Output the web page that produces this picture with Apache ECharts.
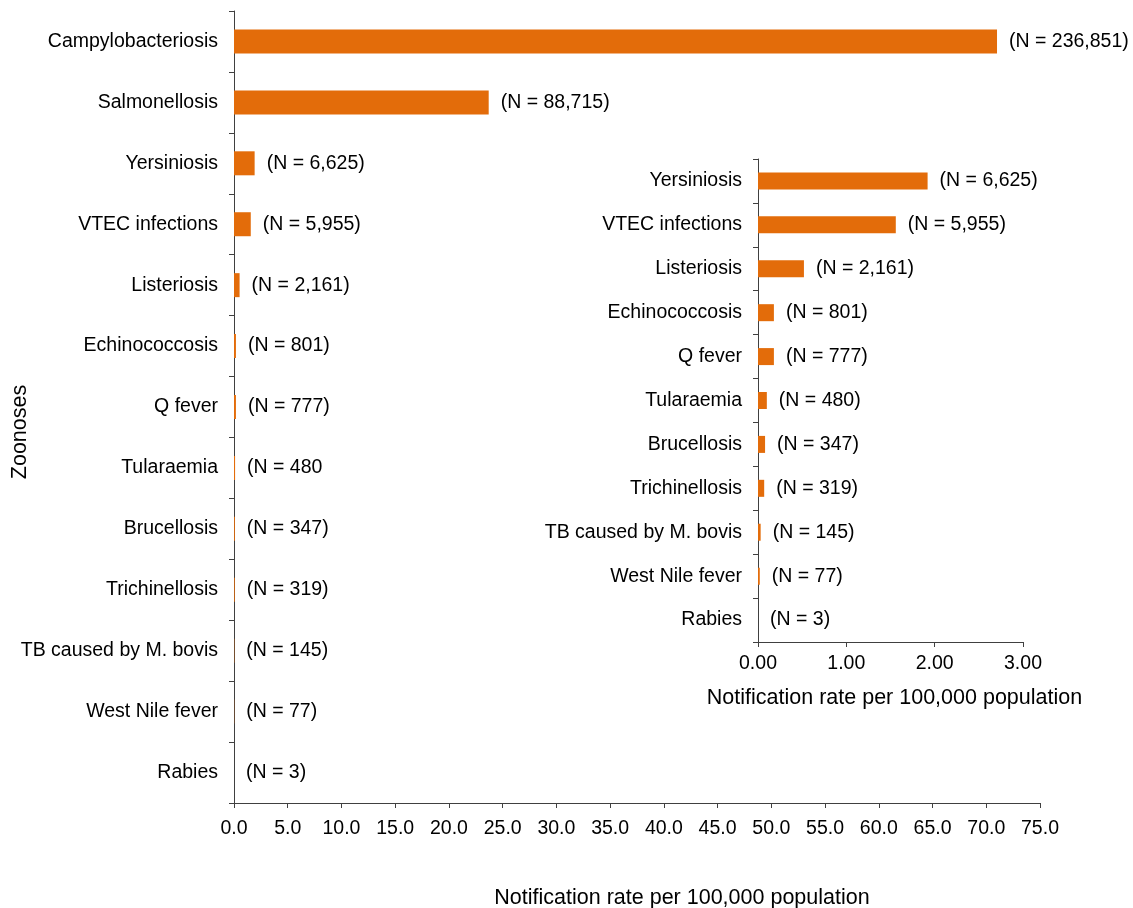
<!DOCTYPE html>
<html>
<head>
<meta charset="utf-8">
<script src="https://cdn.jsdelivr.net/npm/echarts@6/dist/echarts.min.js"></script>
<style>html,body{margin:0;padding:0;background:#fff}#c{width:1133px;height:908px}</style>
</head>
<body>
<div id="c"></div>
<script>
const mainCategories = ['Campylobacteriosis','Salmonellosis','Yersiniosis','VTEC infections','Listeriosis','Echinococcosis','Q fever','Tularaemia','Brucellosis','Trichinellosis','TB caused by M. bovis','West Nile fever','Rabies'];
const mainRates = [71.0, 23.7, 1.92, 1.56, 0.52, 0.18, 0.18, 0.10, 0.08, 0.07, 0.03, 0.02, 0.00];
const mainLabels = ['(N = 236,851)','(N = 88,715)','(N = 6,625)','(N = 5,955)','(N = 2,161)','(N = 801)','(N = 777)','(N = 480','(N = 347)','(N = 319)','(N = 145)','(N = 77)','(N = 3)'];

const insetCategories = ['Yersiniosis','VTEC infections','Listeriosis','Echinococcosis','Q fever','Tularaemia','Brucellosis','Trichinellosis','TB caused by M. bovis','West Nile fever','Rabies'];
const insetRates = [1.92, 1.56, 0.52, 0.18, 0.18, 0.10, 0.08, 0.07, 0.03, 0.02, 0.00];
const insetLabels = ['(N = 6,625)','(N = 5,955)','(N = 2,161)','(N = 801)','(N = 777)','(N = 480)','(N = 347)','(N = 319)','(N = 145)','(N = 77)','(N = 3)'];

const xTitle = 'Notification rate per 100,000 population';
const yTitle = 'Zoonoses';

const FONT = '"Liberation Sans", Arial, sans-serif';
const FS = 19.5;
const TFS = 21.5;
const AX = '#404040';
const BAR = '#E36C0A';

const chart = echarts.init(document.getElementById('c'), null, {renderer: 'canvas'});
chart.setOption({
  animation: false,
  textStyle: {fontFamily: FONT, color: '#000'},
  grid: [
    {left: 234, right: 93, top: 11, bottom: 105, containLabel: false, outerBoundsMode: 'none'},
    {left: 758, right: 110, top: 159, bottom: 266, containLabel: false, outerBoundsMode: 'none'}
  ],
  xAxis: [
    {
      gridIndex: 0, type: 'value', min: 0, max: 75, interval: 5,
      axisLine: {show: true, lineStyle: {color: AX, width: 1}},
      axisTick: {show: true, length: 5, lineStyle: {color: AX}},
      splitLine: {show: false},
      axisLabel: {color: '#000', fontSize: FS, fontFamily: FONT, margin: 16, formatter: v => v.toFixed(1)},
      name: xTitle, nameLocation: 'middle', nameGap: 84,
      nameTextStyle: {color: '#000', fontSize: TFS, fontFamily: FONT, padding: [0, 0, 0, 90]}
    },
    {
      gridIndex: 1, type: 'value', min: 0, max: 3, interval: 1,
      axisLine: {show: true, lineStyle: {color: AX, width: 1}},
      axisTick: {show: true, length: 5, lineStyle: {color: AX}},
      splitLine: {show: false},
      axisLabel: {color: '#000', fontSize: FS, fontFamily: FONT, margin: 12, formatter: v => v.toFixed(2)},
      name: xTitle, nameLocation: 'middle', nameGap: 45,
      nameTextStyle: {color: '#000', fontSize: TFS, fontFamily: FONT, padding: [0, 0, 0, 8]}
    }
  ],
  yAxis: [
    {
      gridIndex: 0, type: 'category', data: mainCategories, inverse: true,
      axisLine: {show: true, lineStyle: {color: AX, width: 1}},
      axisTick: {show: true, length: 5, lineStyle: {color: AX}},
      axisLabel: {color: '#000', fontSize: FS, fontFamily: FONT, margin: 16}
    },
    {
      gridIndex: 1, type: 'category', data: insetCategories, inverse: true,
      axisLine: {show: true, lineStyle: {color: AX, width: 1}},
      axisTick: {show: true, length: 5, lineStyle: {color: AX}},
      axisLabel: {color: '#000', fontSize: FS, fontFamily: FONT, margin: 16}
    }
  ],
  graphic: [
    {type: 'text', rotation: Math.PI / 2, x: 20, y: 432,
     style: {text: yTitle, fill: '#000', font: TFS + 'px ' + FONT, textAlign: 'center', textVerticalAlign: 'middle'}}
  ],
  series: [
    {
      type: 'bar', xAxisIndex: 0, yAxisIndex: 0, data: mainRates, barWidth: 24,
      itemStyle: {color: BAR},
      label: {show: true, position: 'right', distance: 12, color: '#000', fontSize: FS, fontFamily: FONT,
              formatter: p => mainLabels[p.dataIndex]}
    },
    {
      type: 'bar', xAxisIndex: 1, yAxisIndex: 1, data: insetRates, barWidth: 17,
      itemStyle: {color: BAR},
      label: {show: true, position: 'right', distance: 12, color: '#000', fontSize: FS, fontFamily: FONT,
              formatter: p => insetLabels[p.dataIndex]}
    }
  ]
});
</script>
</body>
</html>
